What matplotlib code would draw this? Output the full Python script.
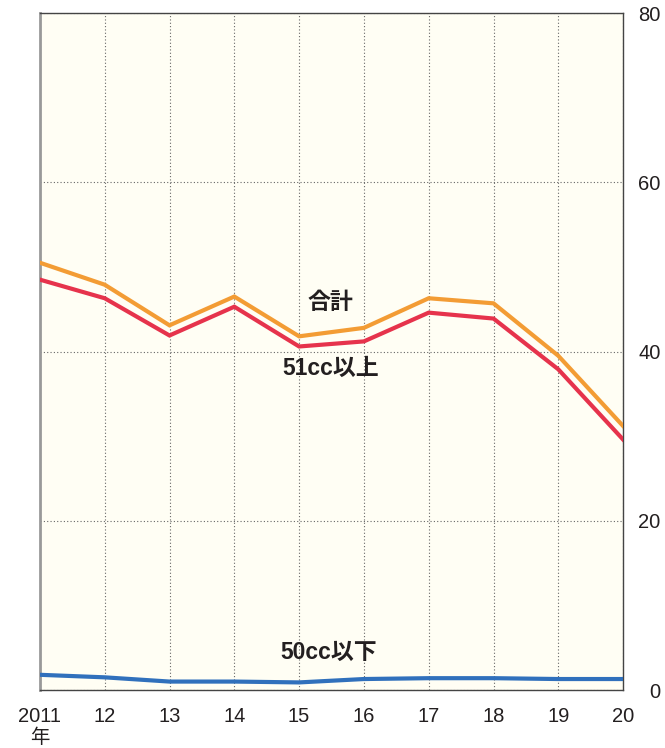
import matplotlib
matplotlib.use("Agg")
import matplotlib.pyplot as plt

years = [2011, 2012, 2013, 2014, 2015, 2016, 2017, 2018, 2019, 2020]
xlabels = ["2011", "12", "13", "14", "15", "16", "17", "18", "19", "20"]
total = [50.5, 47.9, 43.1, 46.5, 41.8, 42.8, 46.3, 45.7, 39.5, 31.2]
over51 = [48.5, 46.3, 41.9, 45.3, 40.6, 41.2, 44.6, 43.9, 37.9, 29.6]
under50 = [1.8, 1.5, 1.0, 1.0, 0.9, 1.3, 1.4, 1.4, 1.3, 1.3]
yticks = [0, 20, 40, 60, 80]

plt.rcParams['font.family'] = ['Liberation Sans', 'Noto Sans CJK JP', 'DejaVu Sans']

fig = plt.figure(figsize=(6.65, 7.48), dpi=100)
ax = fig.add_axes([0.060, 0.0775, 0.877, 0.905])
ax.set_facecolor('#FFFEF4')

ax.plot(years, total, color='#F39C34', lw=3.0, solid_joinstyle='miter', zorder=3)
ax.plot(years, over51, color='#E6334C', lw=3.0, solid_joinstyle='miter', zorder=3)
ax.plot(years, under50, color='#3070BC', lw=3.0, zorder=3)

ax.set_xlim(2011, 2020)
ax.set_ylim(0, 80)
ax.set_xticks(years)
ax.set_xticklabels(xlabels)
ax.set_yticks(yticks)
ax.yaxis.tick_right()
ax.tick_params(axis='both', length=0, labelsize=14.5, colors='#231F20')
ax.tick_params(axis='x', pad=12)
ax.tick_params(axis='y', pad=27)
for t in ax.get_yticklabels():
    t.set_ha('right')

ax.grid(True, color='#666666', linestyle=(0, (1, 2)), lw=0.8, zorder=1)
for s in ['top', 'right', 'bottom']:
    ax.spines[s].set_color('#444444')
    ax.spines[s].set_linewidth(1.0)
ax.spines['left'].set_color('#999999')
ax.spines['left'].set_linewidth(2.0)

ax.text(2011, -5.6, "年", ha='center', va='center', fontsize=14, color='#231F20',
        family=['Noto Sans CJK JP', 'DejaVu Sans'])

lab = dict(ha='center', va='center', fontsize=16.5, fontweight='bold', color='#231F20',
           family=['Liberation Sans', 'Noto Sans CJK JP', 'DejaVu Sans'], zorder=4)
ax.text(2015.49, 45.8, "合計", **lab)
ax.text(2015.49, 38.0, "51cc以上", **lab)
ax.text(2015.45, 4.4, "50cc以下", **lab)

fig.savefig("out.png", dpi=100)
